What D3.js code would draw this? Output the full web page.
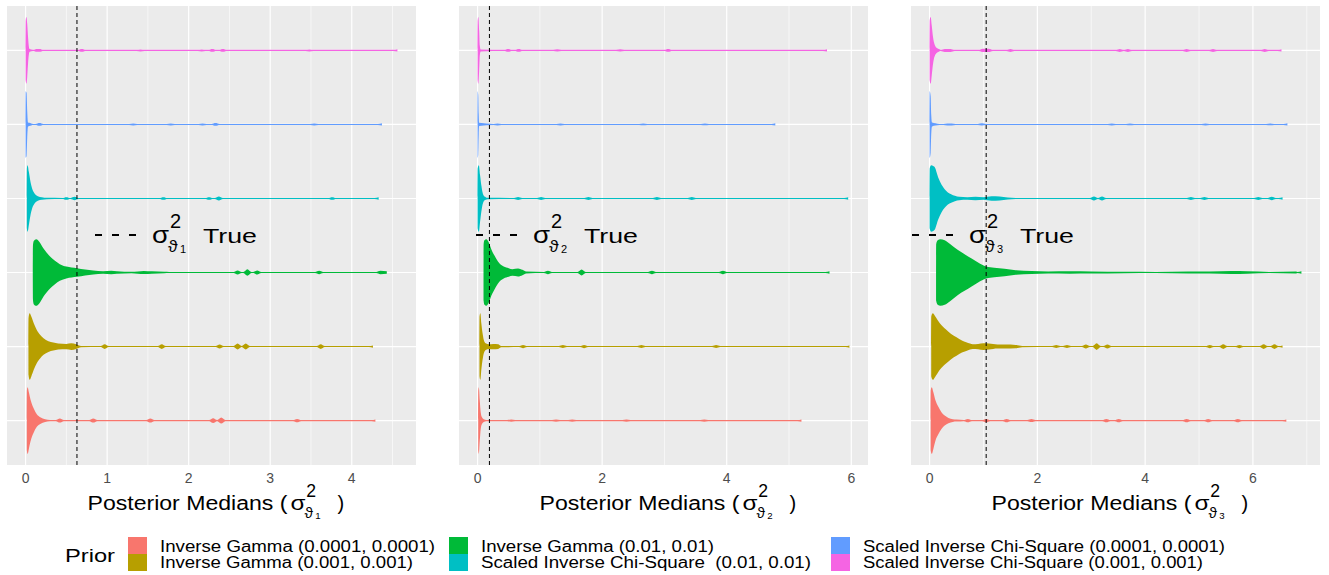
<!DOCTYPE html>
<html lang="en">
<head>
<meta charset="utf-8">
<title>Posterior medians by prior</title>
<script src="https://cdn.jsdelivr.net/npm/d3@7/dist/d3.min.js"></script>
<style>
  body { margin: 0; background: #fff; font-family: "Liberation Sans", Arial, sans-serif; }
  text { white-space: pre; }
</style>
</head>
<body>
<script>
// priors, bottom row first (same order as the legend)
var priors = ["Inverse Gamma (0.0001, 0.0001)", "Inverse Gamma (0.001, 0.001)", "Inverse Gamma (0.01, 0.01)",
  "Scaled Inverse Chi-Square  (0.01, 0.01)", "Scaled Inverse Chi-Square (0.0001, 0.0001)", "Scaled Inverse Chi-Square (0.001, 0.001)"];
var priorColors = ["#F8766D", "#B79F00", "#00BA38", "#00BFC4", "#619CFF", "#F564E3"];
var trueValues = [0.63, 0.19, 1.05];
var subscripts = ["1", "2", "3"];
var majorTicks = [[0, 1, 2, 3, 4], [0, 2, 4, 6], [0, 2, 4, 6]];
var minorTicks = [[0.5, 1.5, 2.5, 3.5, 4.5], [1, 3, 5], [1, 3, 5, 7]];

// violin outlines: [value, relative half width]
// panel 1 (sigma^2 theta1)
var body1 = [
  [[0.015,0],[0.016,0.9],[0.025,1],[0.04,0.85],[0.06,0.63],[0.1,0.36],[0.14,0.18],[0.18,0.1],[0.24,0.04],[0.3,0.02]],
  [[0.035,0],[0.036,0.85],[0.05,1],[0.07,0.9],[0.1,0.7],[0.137,0.5],[0.18,0.35],[0.22,0.25],[0.28,0.16],[0.34,0.12],[0.4,0.09],[0.5,0.08],[0.56,0.1],[0.62,0.07],[0.68,0.02]],
  [[0.088,0],[0.09,0.8],[0.1,0.95],[0.13,1],[0.17,0.92],[0.22,0.72],[0.3,0.48],[0.36,0.35],[0.42,0.25],[0.5,0.18],[0.63,0.13],[0.73,0.09],[0.83,0.06],[0.95,0.04],[1.05,0.05],[1.12,0.04],[1.3,0.02],[1.45,0.045],[1.55,0.035],[1.7,0.02],[1.76,0.01]],
  [[0.015,0],[0.016,0.9],[0.025,1],[0.04,0.8],[0.06,0.5],[0.08,0.3],[0.11,0.15],[0.15,0.07],[0.2,0.04],[0.26,0.02]],
  [[0,0],[0.001,1],[0.012,0.95],[0.02,0.4],[0.03,0.06]],
  [[0,0],[0.001,0.9],[0.01,1],[0.02,0.8],[0.03,0.4],[0.04,0.12],[0.05,0.04]]
];
var bumps1 = [
  [[0.42,0.06],[0.83,0.06],[1.53,0.06],[2.3,0.07],[2.4,0.09],[3.33,0.05]],
  [[0.97,0.07],[1.67,0.07],[2.38,0.06],[2.6,0.09],[2.7,0.09],[3.62,0.07]],
  [[2.6,0.06],[2.72,0.1],[2.84,0.06],[3.6,0.05],[4.35,0.05]],
  [[0.5,0.04],[0.6,0.05],[1.69,0.04],[2.25,0.04],[2.37,0.06],[3.76,0.04]],
  [[0.045,0.05],[0.17,0.04],[1.32,0.03],[1.78,0.03],[2.17,0.03],[2.33,0.04],[3.54,0.03]],
  [[0.14,0.04],[0.17,0.04],[0.69,0.04],[1.41,0.03],[2.16,0.03],[2.29,0.04],[2.42,0.04],[3.48,0.03]]
];
var ends1 = [4.29, 4.26, 4.43, 4.33, 4.37, 4.56];

// panel 2 (sigma^2 theta2)
var body2 = [
  [[0.01,0],[0.011,0.9],[0.02,1],[0.035,0.6],[0.05,0.25],[0.07,0.1],[0.1,0.04],[0.14,0.02]],
  [[0.03,0],[0.031,0.9],[0.045,1],[0.06,0.7],[0.08,0.4],[0.1,0.2],[0.13,0.1],[0.18,0.07],[0.25,0.08],[0.33,0.07],[0.38,0.02]],
  [[0.095,0],[0.097,0.85],[0.11,0.97],[0.14,1],[0.18,0.9],[0.22,0.7],[0.28,0.48],[0.34,0.3],[0.42,0.18],[0.5,0.13],[0.56,0.1],[0.65,0.12],[0.72,0.08],[0.78,0.03]],
  [[0,0],[0.001,0.9],[0.02,1],[0.04,0.7],[0.06,0.4],[0.08,0.18],[0.1,0.08],[0.13,0.04],[0.16,0.02]],
  [[0,0],[0.001,1],[0.01,0.9],[0.018,0.3],[0.025,0.05]],
  [[0,0],[0.001,0.9],[0.012,1],[0.025,0.6],[0.035,0.15],[0.05,0.03]]
];
var bumps2 = [
  [[0.54,0.035],[1.26,0.035],[1.52,0.035],[2.39,0.035],[3.64,0.035]],
  [[0.73,0.05],[1.37,0.045],[1.71,0.05],[2.63,0.045],[3.83,0.045]],
  [[1.13,0.05],[1.67,0.09],[2.8,0.05],[3.94,0.05]],
  [[0.65,0.045],[1.02,0.045],[1.78,0.045],[2.88,0.045],[3.44,0.045]],
  [[0.32,0.03],[1.33,0.03],[2.66,0.025],[3.65,0.025]],
  [[0.49,0.04],[0.66,0.04],[1.28,0.035],[2.29,0.035],[3.06,0.04]]
];
var ends2 = [5.2, 5.97, 5.65, 5.95, 4.78, 5.61];

// panel 3 (sigma^2 theta3)
var body3 = [
  [[0.02,0],[0.021,0.9],[0.04,1],[0.07,0.85],[0.11,0.6],[0.16,0.42],[0.22,0.25],[0.28,0.15],[0.35,0.08],[0.43,0.04],[0.5,0.03]],
  [[0.03,0],[0.031,0.9],[0.06,1],[0.1,0.92],[0.19,0.7],[0.3,0.52],[0.4,0.38],[0.5,0.28],[0.6,0.18],[0.68,0.13],[0.75,0.09],[0.8,0.07],[0.9,0.08],[1.0,0.1],[1.1,0.09],[1.26,0.06],[1.4,0.06],[1.6,0.05],[1.72,0.02]],
  [[0.12,0],[0.122,0.85],[0.15,0.97],[0.2,1],[0.28,0.97],[0.38,0.86],[0.52,0.68],[0.65,0.55],[0.78,0.42],[0.9,0.3],[1.05,0.18],[1.2,0.14],[1.39,0.11],[1.6,0.07],[1.89,0.045],[2.2,0.03],[2.6,0.035],[3.0,0.03],[3.6,0.02],[4.2,0.015],[4.8,0.03],[5.2,0.03],[5.6,0.045],[5.9,0.035],[6.3,0.015],[6.8,0.03]],
  [[0,0],[0.002,0.9],[0.03,1],[0.09,0.95],[0.16,0.63],[0.22,0.42],[0.28,0.28],[0.34,0.18],[0.4,0.13],[0.47,0.08],[0.55,0.05],[0.7,0.04],[0.85,0.05],[1.0,0.04],[1.15,0.07],[1.3,0.06],[1.45,0.03],[1.6,0.01]],
  [[0,0],[0.001,1],[0.02,0.85],[0.03,0.3],[0.045,0.06]],
  [[0,0],[0.002,0.9],[0.02,1],[0.04,0.75],[0.06,0.45],[0.08,0.25],[0.1,0.15],[0.13,0.08],[0.17,0.04],[0.2,0.02]]
];
var bumps3 = [
  [[0.71,0.05],[1.05,0.05],[1.43,0.05],[1.89,0.045],[3.28,0.05],[3.51,0.05],[4.77,0.05],[5.17,0.05],[5.72,0.05]],
  [[2.35,0.045],[2.55,0.045],[2.9,0.06],[3.1,0.1],[3.3,0.06],[5.2,0.05],[5.45,0.07],[5.75,0.05],[6.2,0.07],[6.4,0.07]],
  [],
  [[3.05,0.06],[3.2,0.06],[4.85,0.045],[5.1,0.045],[6.1,0.045],[6.35,0.05]],
  [[0.11,0.035],[0.33,0.03],[0.41,0.03],[0.97,0.035],[3.38,0.03],[3.72,0.025],[5.12,0.03],[6.32,0.025]],
  [[0.28,0.045],[0.39,0.045],[0.99,0.05],[1.1,0.05],[1.5,0.045],[3.53,0.045],[3.68,0.045],[4.77,0.045],[5.26,0.045],[6.22,0.045]]
];
var ends3 = [6.62, 6.55, 6.9, 6.55, 6.64, 6.53];

var width = 1329, height = 575;
var panelLeft = [7, 459, 911], panelWidth = 409, panelTop = 6, panelBottom = 465;
var annoX = [95, 476, 912];
var halfW = 33.3;

var svg = d3.select("body").append("svg")
  .attr("width", width).attr("height", height);

var y = d3.scalePoint()
  .domain(priors.slice().reverse())
  .range([panelTop, panelBottom])
  .padding(0.6);

// stretch text a bit, the picture's glyphs are wider than plain Arial
function widen(sel, f) {
  sel.each(function() {
    var n = this.getComputedTextLength();
    d3.select(this).attr("textLength", n * f).attr("lengthAdjust", "spacingAndGlyphs");
  });
  return sel;
}

// sigma^2 with theta subscript, at x / baseline
function sigma(g, x, base, s, sub) {
  widen(g.append("text").attr("x", x).attr("y", base).attr("font-size", 24 * s).text("σ"), 1.15);
  g.append("text").attr("x", x + 18 * s).attr("y", base - 15 * s).attr("font-size", 20 * s).text("2");
  widen(g.append("text").attr("x", x + 16 * s).attr("y", base + 9 * s).attr("font-size", 16 * s).text("ϑ"), 1.1);
  g.append("text").attr("x", x + 28 * s).attr("y", base + 10 * s).attr("font-size", 11 * s).text(sub);
}

function outline(body, bumps, end, pxUnit) {
  var dv = 4 / pxUnit;
  var last = body[body.length - 1][0];
  var centers = bumps.map(function(b) { return b[0]; }).concat([end]);
  var extra = [];
  function near(v, own) {
    return centers.some(function(c) { return c !== own && Math.abs(c - v) < dv; });
  }
  bumps.concat([[end, 0.035]]).forEach(function(b) {
    if (!near(b[0] - dv, b[0])) extra.push([b[0] - dv, 0]);
    extra.push([b[0], b[1]]);
    if (b[0] !== end && !near(b[0] + dv, b[0])) extra.push([b[0] + dv, 0]);
  });
  var pts = body.concat(extra.filter(function(d) { return d[0] > last; }));
  pts.sort(function(a, b) { return a[0] - b[0]; });
  return pts.filter(function(d, i) { return i === 0 || d[0] > pts[i - 1][0]; });
}

var bodies = [body1, body2, body3];
var bumpSets = [bumps1, bumps2, bumps3];
var endSets = [ends1, ends2, ends3];

bodies.forEach(function(bodyP, p) {
  var vals = [];
  bodyP.forEach(function(b) { b.forEach(function(d) { vals.push(d[0]); }); });
  endSets[p].forEach(function(e) { vals.push(e); });
  var ext = d3.extent(vals), span = ext[1] - ext[0];
  var x0 = panelLeft[p], x1 = x0 + panelWidth;
  var x = d3.scaleLinear()
    .domain([ext[0] - 0.05 * span, ext[1] + 0.05 * span])
    .range([x0, x1]);
  var pxUnit = (x1 - x0) / (x.domain()[1] - x.domain()[0]);

  var g = svg.append("g");
  g.append("rect")
    .attr("x", x0).attr("y", panelTop)
    .attr("width", panelWidth).attr("height", panelBottom - panelTop)
    .attr("fill", "#EBEBEB");

  g.selectAll(".minor").data(minorTicks[p]).enter().append("line")
    .attr("x1", function(d) { return x(d); }).attr("x2", function(d) { return x(d); })
    .attr("y1", panelTop).attr("y2", panelBottom)
    .attr("stroke", "#fff").attr("stroke-width", 0.6);
  g.selectAll(".major").data(majorTicks[p]).enter().append("line")
    .attr("x1", function(d) { return x(d); }).attr("x2", function(d) { return x(d); })
    .attr("y1", panelTop).attr("y2", panelBottom)
    .attr("stroke", "#fff").attr("stroke-width", 1.2);
  g.selectAll(".hgrid").data(priors).enter().append("line")
    .attr("x1", x0).attr("x2", x1)
    .attr("y1", function(d) { return y(d); }).attr("y2", function(d) { return y(d); })
    .attr("stroke", "#fff").attr("stroke-width", 1.2);

  priors.forEach(function(pr, i) {
    var yc = y(pr);
    var pts = outline(bodyP[i], bumpSets[p][i], endSets[p][i], pxUnit);
    var area = d3.area()
      .x(function(d) { return x(d[0]); })
      .y0(function(d) { return yc - Math.max(d[1] * halfW, 0.55); })
      .y1(function(d) { return yc + Math.max(d[1] * halfW, 0.55); })
      .curve(d3.curveMonotoneX);
    g.append("path").attr("d", area(pts)).attr("fill", priorColors[i]);
  });

  // true value
  g.append("line")
    .attr("x1", x(trueValues[p])).attr("x2", x(trueValues[p]))
    .attr("y1", panelTop).attr("y2", panelBottom)
    .attr("stroke", "#000").attr("stroke-width", 1)
    .attr("stroke-dasharray", "4,3");

  // in-panel key
  var ax = annoX[p];
  g.append("line")
    .attr("x1", ax).attr("x2", ax + 41).attr("y1", 235).attr("y2", 235)
    .attr("stroke", "#000").attr("stroke-width", 1.8)
    .attr("stroke-dasharray", "7,10");
  sigma(g, ax + 57, 243, 1, subscripts[p]);
  g.append("text").attr("x", ax + 108).attr("y", 243)
    .attr("font-size", 20).attr("textLength", 54).attr("lengthAdjust", "spacingAndGlyphs")
    .text("True");

  // axis
  g.selectAll(".tick").data(majorTicks[p]).enter().append("text")
    .attr("x", function(d) { return x(d); }).attr("y", 483)
    .attr("text-anchor", "middle").attr("font-size", 14).attr("fill", "#4D4D4D")
    .text(function(d) { return d; });

  var tx = (x0 + x1) / 2 - 124;
  g.append("text").attr("x", tx).attr("y", 510).attr("font-size", 20)
    .attr("textLength", 200).attr("lengthAdjust", "spacingAndGlyphs")
    .text("Posterior Medians (");
  sigma(g, tx + 203, 510, 0.88, subscripts[p]);
  g.append("text").attr("x", tx + 250).attr("y", 510).attr("font-size", 20).text(")");
});

// legend
var leg = svg.append("g");
leg.append("text").attr("x", 65).attr("y", 562).attr("font-size", 19)
  .attr("textLength", 50).attr("lengthAdjust", "spacingAndGlyphs").text("Prior");
var colX = [128, 449, 831];
var labelWidths = [275, 253, 233, 330, 362, 340];
priors.forEach(function(pr, i) {
  var c = Math.floor(i / 2), r = i % 2;
  leg.append("rect")
    .attr("x", colX[c]).attr("y", 537 + r * 17)
    .attr("width", 19).attr("height", 17)
    .attr("fill", priorColors[i]);
  leg.append("text")
    .attr("x", colX[c] + 32).attr("y", 552 + r * 16)
    .attr("font-size", 16)
    .attr("textLength", labelWidths[i]).attr("lengthAdjust", "spacingAndGlyphs")
    .text(pr);
});
</script>
</body>
</html>
